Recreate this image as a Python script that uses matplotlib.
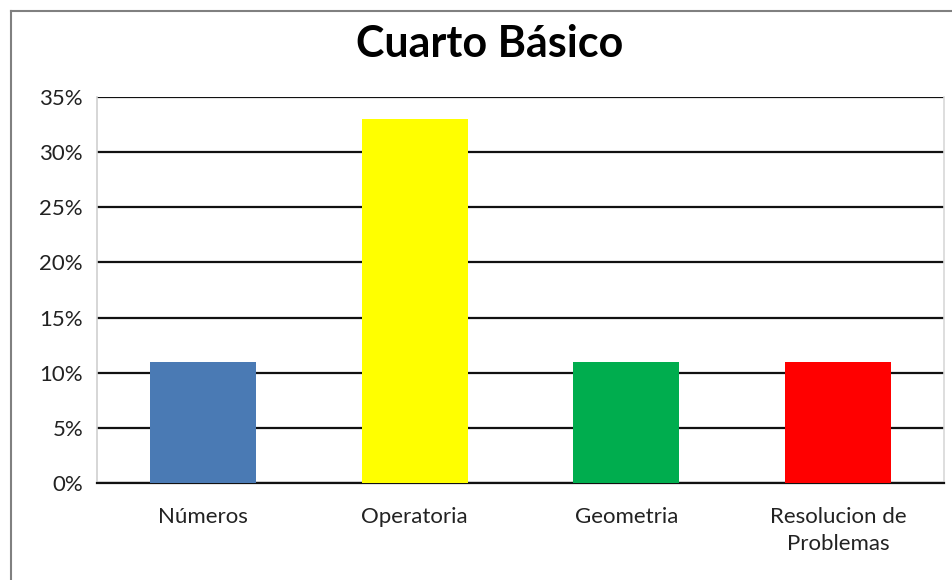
import numpy as np
import matplotlib.pyplot as plt
from matplotlib.lines import Line2D

plt.rcParams['font.family'] = ['Lato', 'DejaVu Sans']

categories = ['Números', 'Operatoria', 'Geometria', 'Resolucion de\nProblemas']
values = [11, 33, 11, 11]
colors = ['#4a7ab4', '#ffff00', '#00ad4e', '#ff0000']
yticks = [0, 5, 10, 15, 20, 25, 30, 35]

fig = plt.figure(figsize=(9.52, 5.8), dpi=100)
ax = fig.add_axes([97 / 952, 1 - 483 / 580, (944 - 97) / 952, (483 - 97) / 580])

x = np.arange(len(categories))
ax.bar(x, values, width=0.5, color=colors, zorder=3)

ax.set_xlim(-0.5, len(categories) - 0.5)
ax.set_ylim(0, 35)
ax.set_yticks(yticks)
ax.set_yticklabels([f'{t}%' for t in yticks], fontsize=16, color='#222222')
ax.set_xticks(x)
ax.set_xticklabels(categories, fontsize=16, color='#222222', linespacing=1.45)
ax.tick_params(axis='both', length=0)
ax.tick_params(axis='y', pad=10)
ax.tick_params(axis='x', pad=17)

ax.yaxis.grid(True, color='#111111', linewidth=1.6, zorder=1)
ax.set_axisbelow(True)
ax.spines['top'].set_visible(False)
ax.spines['left'].set_color('#d0d0d0')
ax.spines['left'].set_linewidth(1.2)
ax.spines['right'].set_color('#d8d8d8')
ax.spines['right'].set_linewidth(1.2)
ax.spines['bottom'].set_color('#111111')
ax.spines['bottom'].set_linewidth(1.6)

# chart border (left and top)
fig.add_artist(Line2D([11 / 952, 11 / 952], [0, 1 - 11 / 580], color='#808080', lw=1.5))
fig.add_artist(Line2D([11 / 952, 1], [1 - 11 / 580, 1 - 11 / 580], color='#808080', lw=1.5))

fig.text(490 / 952, 1 - 44 / 580, 'Cuarto Básico', ha='center', va='center',
         fontsize=31, fontweight='bold', color='black')

fig.savefig('out.png', dpi=100)
